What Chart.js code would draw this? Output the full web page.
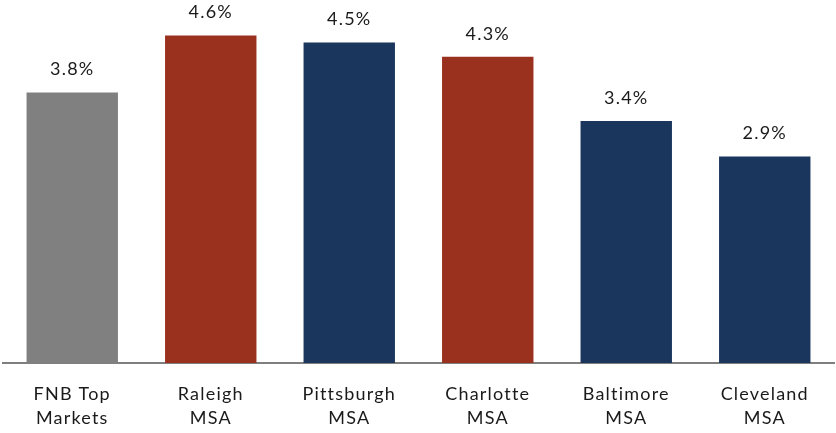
<!DOCTYPE html>
<html>
<head>
<meta charset="utf-8">
<script src="https://cdn.jsdelivr.net/npm/chart.js@4.4.1/dist/chart.umd.min.js"></script>
<style>
  html, body { margin: 0; padding: 0; background: #fff; }
  #wrap { width: 836px; height: 433px; }
</style>
</head>
<body>
<div id="wrap"><canvas id="myChart"></canvas></div>
<script>
// market names, split over two lines
const markets = [
    ['FNB Top', 'Markets'],
    ['Raleigh', 'MSA'],
    ['Pittsburgh', 'MSA'],
    ['Charlotte', 'MSA'],
    ['Baltimore', 'MSA'],
    ['Cleveland', 'MSA']
];
// growth rate in percent
const growth = [3.8, 4.6, 4.5, 4.3, 3.4, 2.9];
const barColors = ['#808080', '#9a311e', '#1b365d', '#9a311e', '#1b365d', '#1b365d'];

const fontFamily = 'Lato, "Open Sans", sans-serif';

// wider letter spacing for all text on the canvas
const spacing = {
    id: 'spacing',
    beforeDraw(chart) {
        chart.ctx.letterSpacing = '1.2px';
    }
};

// writes the percentage above each bar
const valueLabels = {
    id: 'valueLabels',
    afterDatasetsDraw(chart) {
        const c = chart.ctx;
        const meta = chart.getDatasetMeta(0);
        c.save();
        c.letterSpacing = '1.2px';
        c.fillStyle = '#1a1a1a';
        c.font = '18px ' + fontFamily;
        c.textAlign = 'center';
        c.textBaseline = 'bottom';
        meta.data.forEach((bar, i) => {
            c.fillText(growth[i].toFixed(1) + '%', bar.x, bar.y - 14);
        });
        c.restore();
    }
};

const ctx = document.getElementById('myChart').getContext('2d');
const myChart = new Chart(ctx, {
    type: 'bar',
    data: {
        labels: markets,
        datasets: [{
            data: growth,
            backgroundColor: barColors,
            barPercentage: 0.66,
            categoryPercentage: 1
        }]
    },
    options: {
        responsive: true,
        maintainAspectRatio: false,
        animation: false,
        layout: { padding: { top: 7, left: 3, right: 2, bottom: 0 } },
        plugins: {
            legend: { display: false },
            tooltip: { enabled: false }
        },
        scales: {
            x: {
                grid: { display: false, drawTicks: false },
                border: { color: '#7f7f7f', width: 2 },
                afterFit(scale) {
                    scale.height = 70;
                },
                ticks: {
                    color: '#1a1a1a',
                    padding: 19,
                    font: { family: fontFamily, size: 18, lineHeight: 1.34 },
                    maxRotation: 0
                }
            },
            y: {
                display: false,
                min: 0,
                max: 5
            }
        }
    },
    plugins: [spacing, valueLabels]
});
</script>
</body>
</html>
